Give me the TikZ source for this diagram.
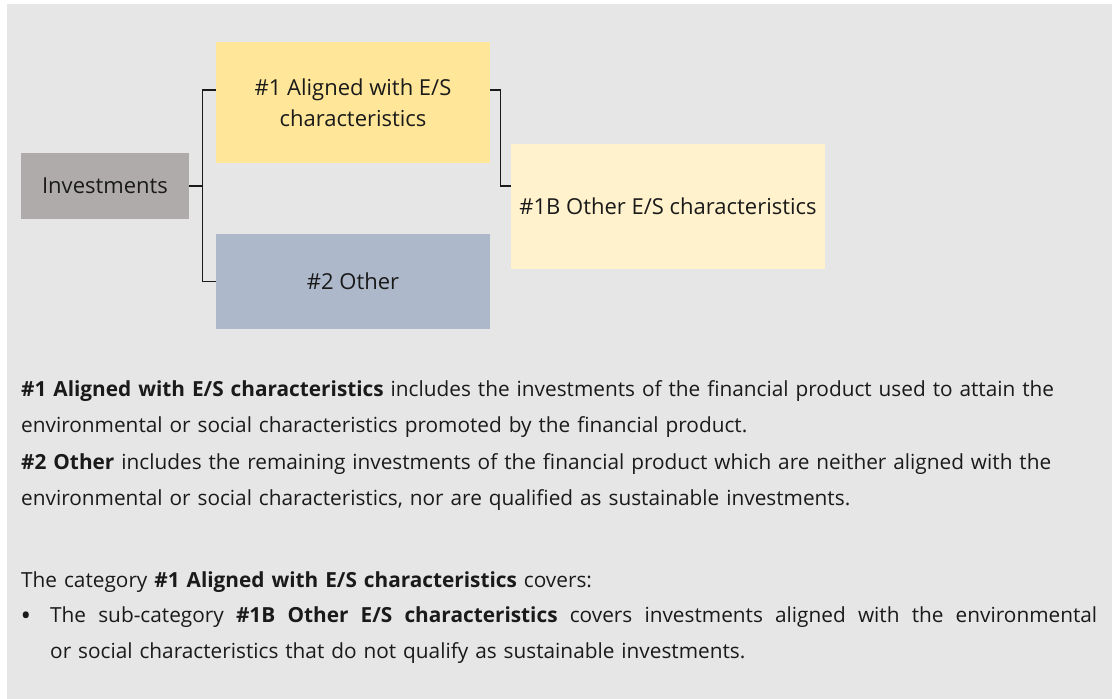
\documentclass[tikz,border=0pt]{standalone}
\usepackage{fontspec}
\setmainfont{Open Sans}
\usetikzlibrary{positioning}
\usepackage{xcolor}
\definecolor{panel}{HTML}{E6E6E6}
\definecolor{invgray}{HTML}{AFABAB}
\definecolor{esyellow}{HTML}{FFE699}
\definecolor{eslight}{HTML}{FFF2CC}
\definecolor{othblue}{HTML}{ADB9CA}
\definecolor{ink}{HTML}{1A1A1A}

\tikzset{
  box/.style={rectangle,inner sep=0pt,align=center,text=ink,
    font=\fontsize{22}{31}\selectfont},
  conn/.style={line width=1.4pt,draw=ink},
  body/.style={inner sep=0pt,anchor=base west,align=left,text=ink,
    font=\fontsize{20.8}{36.5}\selectfont}
}

\begin{document}
\begin{tikzpicture}[x=1pt,y=-1pt]
\useasboundingbox (0,0) rectangle (1117,699);
\fill [panel] (7,4) rectangle (1112,699);

\node [box,fill=invgray,minimum width=168pt,minimum height=66pt] (inv) at (105,186) {Investments};
\node [box,fill=esyellow,minimum width=274pt,minimum height=121pt] (aligned) at (353,102.5) {\#1 Aligned with E/S\\characteristics};
\node [box,fill=othblue,minimum width=274pt,minimum height=95pt] (other) at (353,281.5) {\#2 Other};
\node [box,fill=eslight,minimum width=314pt,minimum height=125pt] (otheres) at (668,206.5) {\#1B Other E/S characteristics};

\coordinate (split) at ([xshift=13pt]inv.east);
\coordinate (a1) at ([yshift=12.5pt]aligned.west);
\coordinate (a2) at ([yshift=12.5pt]aligned.east);
\coordinate (b1) at ([yshift=20.5pt]otheres.west);

\draw [conn] (inv.east) -- (split);
\draw [conn] (a1) -| (split) |- (other.west);
\draw [conn] (a2) -- ++(10,0) |- (b1);

\node [body,text width=1095pt] (defs) at (21,396) {\textbf{\#1 Aligned with E/S characteristics} includes the investments of the financial product used to attain the\\
environmental or social characteristics promoted by the financial product.\\
\textbf{\#2 Other} includes the remaining investments of the financial product which are neither aligned with the\\
environmental or social characteristics, nor are qualified as sustainable investments.};

\node [body,text width=1076pt] (covers) at (21,587) {The category \textbf{\#1 Aligned with E/S characteristics} covers:};
\node [body,text width=1047pt] (subcat) at (50,622) {\hbox to 1047pt{\spaceskip=0.26em plus 2em\relax The sub-category \textbf{\#1B Other E/S characteristics} covers investments aligned with the environmental}\\
or social characteristics that do not qualify as sustainable investments.};
\node [inner sep=0pt,text=ink,font=\fontsize{28}{28}\selectfont] (dot) at (26,619) {•};
\end{tikzpicture}
\end{document}
